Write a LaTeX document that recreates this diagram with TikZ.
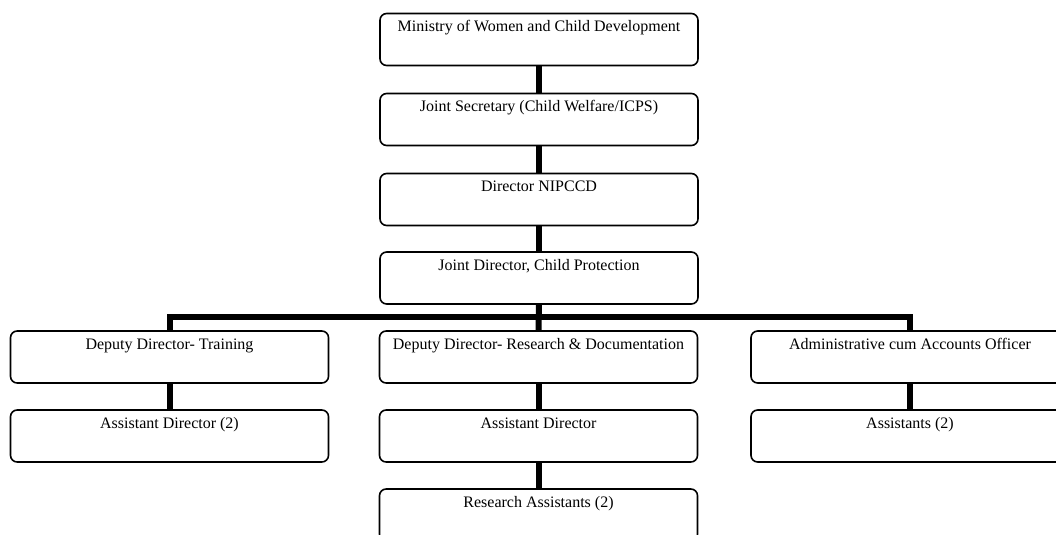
\documentclass[tikz,border=0pt]{standalone}
\usepackage{fontspec}
\setmainfont{Liberation Serif}
\begin{document}
\begin{tikzpicture}[x=0.75pt,y=-0.75pt,
  orgbox/.style={draw=black, line width=1.2pt, rounded corners=5pt,
    minimum width=238.5pt, minimum height=39pt, inner sep=0pt},
  orglabel/.style={label={[anchor=base,yshift=-14.25pt]north:{#1}}},
  conn/.style={line width=4.5pt, line join=miter},
  every label/.style={font=\fontsize{12}{14}\selectfont, inner sep=0pt}]
\useasboundingbox (0,0) rectangle (1056,535);
\clip (0,0) rectangle (1056,535);
\node[orgbox,orglabel={Ministry of Women and Child Development}] (min) at (539,39.5) {};
\node[orgbox,orglabel={Joint Secretary (Child Welfare/ICPS)}] (js) at (539,119.5) {};
\node[orgbox,orglabel={Director NIPCCD}] (dn) at (539,199.5) {};
\node[orgbox,orglabel={Joint Director, Child Protection}] (jd) at (539,278) {};
\node[orgbox,orglabel={Deputy Director- Training}] (dt) at (169.5,357) {};
\node[orgbox,orglabel={Deputy Director- Research \& Documentation}] (dr) at (538.5,357) {};
\node[orgbox,orglabel={Administrative cum Accounts Officer}] (ao) at (910,357) {};
\node[orgbox,orglabel={Assistant Director (2)}] (ad2) at (169.5,436) {};
\node[orgbox,orglabel={Assistant Director}] (ad) at (538.5,436) {};
\node[orgbox,orglabel={Assistants (2)}] (as) at (910,436) {};
\node[orgbox,orglabel={Research Assistants (2)}] (ra) at (538.5,515) {};
\coordinate (bar) at (539,317);
\draw[conn] (min.south) -- (js.north);
\draw[conn] (js.south) -- (dn.north);
\draw[conn] (dn.south) -- (jd.north);
\draw[conn] (jd.south) -- (dr.north);
\draw[conn] (dt.north) |- (bar) -| (ao.north);
\draw[conn] (dt.south) -- (ad2.north);
\draw[conn] (dr.south) -- (ad.north);
\draw[conn] (ad.south) -- (ra.north);
\draw[conn] (ao.south) -- (as.north);
\end{tikzpicture}
\end{document}
